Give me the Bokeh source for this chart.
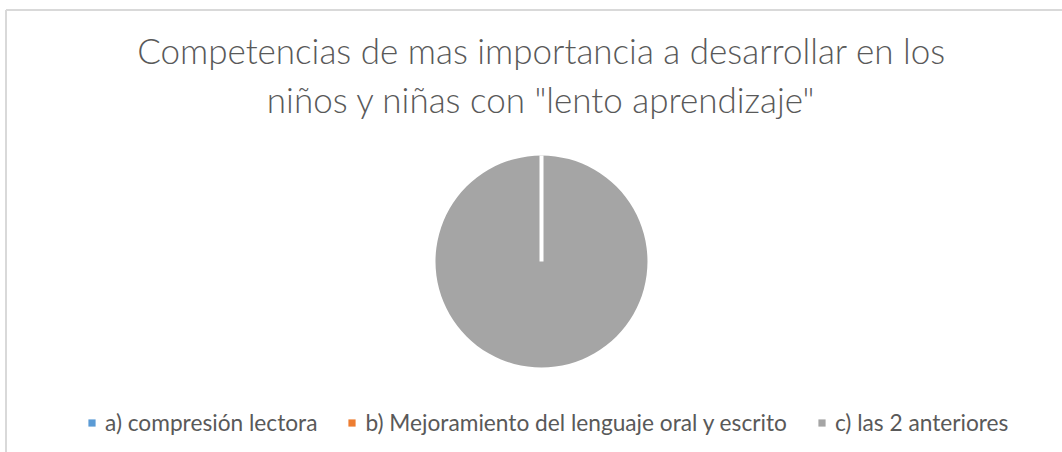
import numpy as np
from bokeh.plotting import figure
from bokeh.models import ColumnDataSource, Range1d, Label, Legend, LegendItem
from bokeh.embed import file_html
from bokeh.resources import INLINE

# ---- data ----
categories = ["a) compresión lectora", "b) Mejoramiento del lenguaje oral y escrito", "c) las 2 anteriores"]
values = [0, 0, 100]
colors = ["#5B9BD5", "#ED7D31", "#A5A5A5"]
title_lines = ["Competencias de mas importancia a desarrollar en los",
               "niños y niñas con \"lento aprendizaje\""]

W, H = 1062, 452
FONT = "Lato"
TITLE_FONT = "'Lato Light', Lato"
TXT = "#595959"

p = figure(width=W, height=H, output_backend="svg", toolbar_location=None,
           x_range=Range1d(0, W), y_range=Range1d(0, H), min_border=0)
p.axis.visible = False
p.grid.visible = False
p.outline_line_color = None
p.background_fill_color = "white"
p.border_fill_color = "white"

# chart-area border (top and left edges visible in the crop)
p.segment(x0=[5.5, 5.5], y0=[H - 9.5, H - 9.5], x1=[W, 5.5], y1=[H - 9.5, 0],
          line_color="#D9D9D9", line_width=2)

# pie geometry from the values
cx, cy, r = 541, 191, 106
vals = np.array(values, dtype=float)
total = vals.sum()
cum = np.concatenate([[0], np.cumsum(vals)])
span = 2 * np.pi * vals / total
start = np.pi / 2 - 2 * np.pi * cum[:-1] / total
# an SVG arc cannot close on itself: keep a full slice a hair short of 360°
end = start - np.minimum(span, 2 * np.pi - 1e-3)
radius = np.where(vals > 0, r, 0.0)   # empty slices draw nothing

src = ColumnDataSource(dict(cat=categories, val=values, color=colors,
                            start=start, end=end, radius=radius))
rend = p.wedge(x=cx, y=cy, radius="radius", start_angle="start", end_angle="end",
               direction="clock", fill_color="color", line_color=None, source=src)

# white slice separators at slice boundaries
bnd = np.unique(np.round(start, 9))
p.segment(x0=cx, y0=cy, x1=cx + r * np.cos(bnd), y1=cy + r * np.sin(bnd),
          line_color="white", line_width=4)

# title
for i, line in enumerate(title_lines):
    p.add_layout(Label(x=cx, y=403 - 49 * i, text=line, text_align="center",
                       text_baseline="alphabetic", text_font=TITLE_FONT,
                       text_font_size="35px", text_color=TXT))

# legend
items = [LegendItem(label=c, renderers=[rend], index=i) for i, c in enumerate(categories)]
legend = Legend(items=items, orientation="horizontal", location=(87, 16),
                glyph_width=9, glyph_height=9, label_standoff=9, spacing=30,
                padding=0, margin=0, background_fill_alpha=0, border_line_alpha=0,
                label_text_font=FONT, label_text_font_size="22.7px", label_text_color=TXT,
                label_height=26)
p.add_layout(legend)

open("out.html", "w").write(file_html(p, INLINE))
